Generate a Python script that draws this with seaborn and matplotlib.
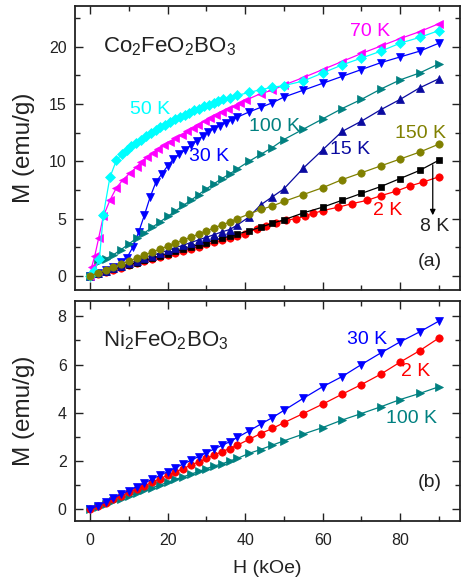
import matplotlib
matplotlib.use("Agg")
import matplotlib.pyplot as plt
from matplotlib.ticker import MultipleLocator
import seaborn as sns
import pandas as pd

# ---------------- data ----------------
H_std = [0, 2, 4, 6, 8, 10, 12, 14, 16, 18, 20, 22, 24, 26, 28, 30, 32, 34, 36, 38,
         41, 44, 47, 50, 55, 60, 65, 70, 75, 80, 85, 90]

# Panel (a): Co2FeO2BO3
H_a2 = [0, 2, 4, 6, 8, 10, 12, 14, 16, 18, 20, 22, 24, 26, 28, 30, 32, 34, 36, 38,
        40, 43, 45.5, 48, 50.5, 53, 55.5, 57.5, 60, 64, 67.5, 71.5, 75, 79, 82.5, 86, 90]
M_a2 = [0, 0.18, 0.36, 0.55, 0.73, 0.92, 1.1, 1.28, 1.47, 1.65, 1.83, 2.02, 2.2, 2.38, 2.57,
        2.75, 2.93, 3.1, 3.3, 3.5, 3.7, 4.1, 4.4, 4.65, 4.85, 5.0, 5.2, 5.45, 5.7, 6.0, 6.3,
        6.6, 7.0, 7.4, 7.85, 8.2, 8.65]
M_a8 = [0, 0.19, 0.39, 0.58, 0.78, 0.97, 1.17, 1.36, 1.56, 1.75, 1.95, 2.14, 2.34, 2.53, 2.73,
        2.92, 3.12, 3.3, 3.45, 3.65, 3.95, 4.25, 4.6, 4.9, 5.5, 6.0, 6.6, 7.2, 7.8, 8.5, 9.2, 10.1]
M_a15 = [0, 0.22, 0.44, 0.66, 0.88, 1.1, 1.33, 1.55, 1.78, 2.0, 2.23, 2.46, 2.69, 2.92, 3.15,
         3.38, 3.6, 3.85, 4.05, 4.45, 5.15, 6.2, 6.9, 7.6, 9.4, 11.0, 12.6, 13.5, 14.5, 15.4,
         16.4, 17.2]
H_a30 = [0, 2, 4, 6, 8, 9.5, 11, 12.5, 14, 15.5, 17, 18.5, 20, 21.5, 23, 24.5, 26, 27.5, 29,
         30.5, 32, 33.5, 35, 36.5, 38, 41, 44, 47, 50, 55, 60, 65, 70, 75, 80, 85, 90]
M_a30 = [0, 0.25, 0.5, 0.8, 1.2, 1.6, 2.5, 3.8, 5.3, 6.9, 8.2, 8.9, 9.6, 10.2, 10.6, 11.0,
         11.4, 11.8, 12.2, 12.55, 12.85, 13.1, 13.35, 13.6, 13.85, 14.3, 14.7, 15.1, 15.6,
         16.2, 16.8, 17.4, 18.0, 18.6, 19.1, 19.6, 20.3]
H_a50 = [0, 1, 2.4, 3.4, 5.1, 6.8, 8.1, 9.4, 10.6, 11.9, 13.1, 14.4, 15.6, 16.9, 18.1, 19.4,
         20.6, 21.9, 23.1, 24.4, 25.6, 26.9, 28.1, 29.4, 30.6, 31.9, 33.1, 34.4, 36, 38,
         41, 44, 47, 50, 55, 60, 65, 70, 75, 80, 85, 90]
M_a50 = [0, 0.4, 1.5, 5.3, 8.6, 10.1, 10.6, 11.0, 11.3, 11.6, 11.9, 12.2, 12.5, 12.75, 13.0,
         13.2, 13.45, 13.65, 13.85, 14.05, 14.25, 14.45, 14.6, 14.8, 14.95, 15.1, 15.25, 15.4,
         15.55, 15.75, 16.0, 16.25, 16.45, 16.6, 17.0, 17.7, 18.4, 19.0, 19.6, 20.3, 20.8, 21.4]
H_a70 = [0, 0.4, 1.2, 2.2, 3.4, 5.1, 6.8, 8.5, 10.2, 12.0, 13.2, 14.8, 16.3, 17.5, 19.1, 20.6,
         22.0, 23.6, 25.1, 26.6, 27.9, 29.6, 30.9, 32.6, 33.9, 35.6, 37.3, 38.6, 40.3,
         44, 47, 50, 55, 60, 65, 70, 75, 80, 85, 90]
M_a70 = [0, 0.8, 1.75, 3.3, 5.2, 6.6, 7.7, 8.4, 8.95, 9.5, 9.95, 10.4, 10.75, 11.1, 11.4, 11.7,
         12.0, 12.3, 12.6, 12.9, 13.2, 13.5, 13.75, 14.0, 14.3, 14.6, 14.8, 15.05, 15.35,
         15.9, 16.2, 16.65, 17.3, 18.0, 18.7, 19.4, 20.05, 20.7, 21.3, 22.0]
M_a100 = [0, 1.2, 1.5, 1.85, 2.3, 2.8, 3.3, 3.75, 4.25, 4.7, 5.2, 5.65, 6.15, 6.6, 7.1, 7.6,
          8.05, 8.5, 8.9, 9.35, 10.0, 10.6, 11.2, 11.9, 12.8, 13.7, 14.6, 15.4, 16.3, 17.1,
          17.7, 18.5]
M_a150 = [0, 0.26, 0.52, 0.78, 1.04, 1.3, 1.56, 1.82, 2.08, 2.34, 2.6, 2.86, 3.12, 3.38, 3.65,
          3.92, 4.2, 4.45, 4.7, 5.0, 5.4, 5.8, 6.1, 6.5, 7.1, 7.7, 8.4, 9.0, 9.6, 10.2, 10.8, 11.5]

# Panel (b): Ni2FeO2BO3
M_b2 = [0, 0.14, 0.28, 0.42, 0.56, 0.7, 0.84, 0.98, 1.12, 1.27, 1.41, 1.55, 1.69, 1.83, 1.97,
        2.11, 2.25, 2.39, 2.52, 2.66, 2.9, 3.14, 3.35, 3.59, 3.97, 4.36, 4.77, 5.17, 5.6, 6.1,
        6.57, 7.1]
M_b30 = [0, 0.16, 0.31, 0.47, 0.63, 0.78, 0.94, 1.09, 1.25, 1.41, 1.56, 1.72, 1.88, 2.03, 2.19,
         2.35, 2.5, 2.65, 2.8, 2.98, 3.25, 3.53, 3.8, 4.1, 4.6, 5.08, 5.5, 6.0, 6.48, 6.94,
         7.35, 7.8]
M_b100 = [0, 0.11, 0.22, 0.34, 0.45, 0.56, 0.67, 0.79, 0.9, 1.01, 1.12, 1.24, 1.35, 1.46, 1.57,
          1.69, 1.8, 1.88, 2.01, 2.11, 2.32, 2.48, 2.66, 2.84, 3.12, 3.39, 3.7, 3.97, 4.25,
          4.55, 4.8, 5.08]

# ---------------- style ----------------
sns.set_theme(style="ticks")
plt.rcParams["font.family"] = ["Liberation Sans", "DejaVu Sans"]
plt.rcParams["mathtext.fontset"] = "custom"
plt.rcParams["mathtext.rm"] = "Liberation Sans"
plt.rcParams["mathtext.it"] = "Liberation Sans:italic"
plt.rcParams["mathtext.default"] = "regular"
plt.rcParams["axes.linewidth"] = 1.3

C_RED = "#FF0000"
C_BLK = "#000000"
C_NAVY = "#0A0AA0"
C_BLUE = "#0000FF"
C_CYAN = "#00FFFF"
C_MAG = "#FF00FF"
C_TEAL = "#008080"
C_OLIVE = "#808000"
C_TXT = "#222222"

fig = plt.figure(figsize=(4.61, 5.80), dpi=100)
ax1 = fig.add_axes([75 / 461, 1 - 290 / 580, (459.5 - 75) / 461, (290 - 6) / 580])
ax2 = fig.add_axes([75 / 461, 1 - 520.5 / 580, (459.5 - 75) / 461, (520.5 - 301) / 580])


def series(ax, H, M, color, marker, ms=5.3, lw=0.9):
    df = pd.DataFrame({"H": H, "M": M})
    sns.lineplot(data=df, x="H", y="M", ax=ax, color=color, marker=marker,
                 markersize=ms, markeredgecolor=color, markeredgewidth=0.5,
                 linewidth=lw, estimator=None, sort=False, legend=False)


# panel (a)
series(ax1, H_a2, M_a2, C_RED, "o")
series(ax1, H_std, M_a8, C_BLK, "s", ms=4.9)
series(ax1, H_std, M_a15, C_NAVY, "^")
series(ax1, H_a30, M_a30, C_BLUE, "v")
series(ax1, H_std, M_a100, C_TEAL, ">")
series(ax1, H_a70, M_a70, C_MAG, "<")
series(ax1, H_a50, M_a50, C_CYAN, "D", ms=5.2)
series(ax1, H_std, M_a150, C_OLIVE, "o")

# panel (b)
series(ax2, H_std, M_b100, C_TEAL, ">")
series(ax2, H_std, M_b2, C_RED, "o")
series(ax2, H_std, M_b30, C_BLUE, "v")

for ax in (ax1, ax2):
    ax.set_xlim(-3.9, 95.3)
    ax.xaxis.set_major_locator(MultipleLocator(20))
    ax.xaxis.set_minor_locator(MultipleLocator(10))
    ax.tick_params(which="both", direction="in", top=True, right=True,
                   width=1.0, labelsize=11.5, colors=C_TXT, labelcolor=C_TXT)
    ax.tick_params(axis="y", pad=6)
    ax.tick_params(axis="x", pad=9)
    ax.tick_params(which="major", length=5.5)
    ax.tick_params(which="minor", length=3.5)
    ax.set_ylabel("M (emu/g)", fontsize=17.5, color=C_TXT)
    ax.yaxis.set_label_coords(-0.105, 0.5)
    for s in ax.spines.values():
        s.set_color(C_TXT)

ax1.set_ylim(-1.22, 23.54)
ax1.yaxis.set_major_locator(MultipleLocator(5))
ax1.yaxis.set_minor_locator(MultipleLocator(2.5))
ax1.tick_params(labelbottom=False)
ax1.set_xlabel("")

ax2.set_ylim(-0.46, 8.63)
ax2.yaxis.set_major_locator(MultipleLocator(2))
ax2.yaxis.set_minor_locator(MultipleLocator(1))
ax2.set_xlabel("H (kOe)", fontsize=14, color=C_TXT)
ax2.xaxis.set_label_coords(0.5, -0.18)

# annotations panel (a)
fs = 14
ax1.text(3.4, 20.0, r"Co$_2$FeO$_2$BO$_3$", fontsize=16, color=C_TXT, ha="left", va="center")
ax1.text(67.0, 21.3, "70 K", fontsize=fs, color=C_MAG, ha="left", va="center")
ax1.text(10.3, 14.5, "50 K", fontsize=fs, color=C_CYAN, ha="left", va="center")
ax1.text(25.4, 10.4, "30 K", fontsize=fs, color=C_BLUE, ha="left", va="center")
ax1.text(40.9, 13.0, "100 K", fontsize=fs, color=C_TEAL, ha="left", va="center")
ax1.text(62.0, 11.0, "15 K", fontsize=fs, color=C_NAVY, ha="left", va="center")
ax1.text(78.7, 12.45, "150 K", fontsize=fs, color=C_OLIVE, ha="left", va="center")
ax1.text(73.1, 5.75, "2 K", fontsize=fs, color=C_RED, ha="left", va="center")
ax1.text(85.0, 4.3, "8 K", fontsize=fs, color=C_TXT, ha="left", va="center")
ax1.text(84.4, 1.25, "(a)", fontsize=fs, color=C_TXT, ha="left", va="center")
ax1.annotate("", xy=(88.4, 5.3), xytext=(88.4, 9.7),
             arrowprops=dict(arrowstyle="-|>", color="black", lw=0.9,
                             mutation_scale=8, shrinkA=0, shrinkB=0))

# annotations panel (b)
ax2.text(3.4, 7.0, r"Ni$_2$FeO$_2$BO$_3$", fontsize=16, color=C_TXT, ha="left", va="center")
ax2.text(66.3, 7.05, "30 K", fontsize=fs, color=C_BLUE, ha="left", va="center")
ax2.text(80.3, 5.7, "2 K", fontsize=fs, color=C_RED, ha="left", va="center")
ax2.text(76.4, 3.77, "100 K", fontsize=fs, color=C_TEAL, ha="left", va="center")
ax2.text(84.4, 1.1, "(b)", fontsize=fs, color=C_TXT, ha="left", va="center")

fig.savefig("out.png", dpi=100)
